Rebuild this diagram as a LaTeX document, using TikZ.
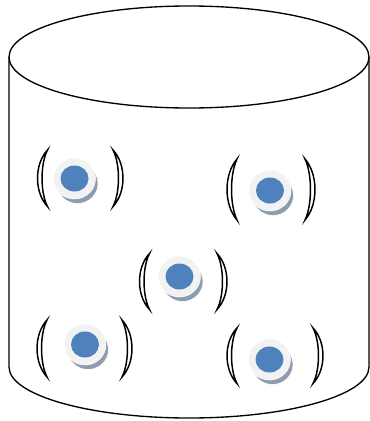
\documentclass[tikz,border=0pt]{standalone}
\usetikzlibrary{calc}
\definecolor{atomblue}{HTML}{4F81BD}
\definecolor{atomrim}{HTML}{F2F2F2}
\definecolor{atomshade}{HTML}{8E9CB0}
\tikzset{
  wall/.style={draw=black, line width=1pt},
  bracket/.style={draw=black, fill=white, line width=1.1pt},
  rim/.style={fill=atomrim, draw=white, line width=0.4pt},
  shade/.style={fill=atomshade, draw=white, line width=0.4pt},
}
\begin{document}
\begin{tikzpicture}[x=0.75pt,y=-0.75pt]
  \useasboundingbox (0,0) rectangle (370,421);
  \def\cx{189}
  \def\ex{180}
  \def\ey{51}
  \def\yt{57}
  \def\yb{367}

  % vessel
  \draw[wall] (\cx,\yt) ellipse [x radius=\ex, y radius=\ey];
  \draw[wall] (\cx-\ex,\yt) -- (\cx-\ex,\yb)
    arc[start angle=180, end angle=0, x radius=\ex, y radius=\ey]
    -- (\cx+\ex,\yt);

  % particles
  \foreach \px/\py/\lx/\rx/\ty/\by [count=\i] in {
    74.5/178.5/37.5/123/150/206.5,
    270/190.5/227/315/159/220,
    179.5/276.5/139.5/227/253.5/309.5,
    85/344.5/37/132/320/377,
    269.5/359.5/227/323/328/383.5} {
  \pgfmathsetmacro{\q}{(\by-\ty)/4}
  \coordinate (p\i) at (\px,\py);
  \filldraw[shade] ($(p\i)+(3,5)$) ellipse [x radius=20.5, y radius=20];
  \filldraw[rim] (p\i) ellipse [x radius=21, y radius=20.5];
  \fill[atomblue] (p\i) ellipse [x radius=14, y radius=13];
  \filldraw[bracket] (\lx+10,\ty) .. controls (\lx-3.3,\ty+\q) and (\lx-3.3,\by-\q) .. (\lx+10,\by)
    .. controls (\lx+2.7,\by-\q) and (\lx+2.7,\ty+\q) .. cycle;
  \filldraw[bracket] (\rx-10,\ty) .. controls (\rx+3.3,\ty+\q) and (\rx+3.3,\by-\q) .. (\rx-10,\by)
    .. controls (\rx-2.7,\by-\q) and (\rx-2.7,\ty+\q) .. cycle;
  }
\end{tikzpicture}
\end{document}
